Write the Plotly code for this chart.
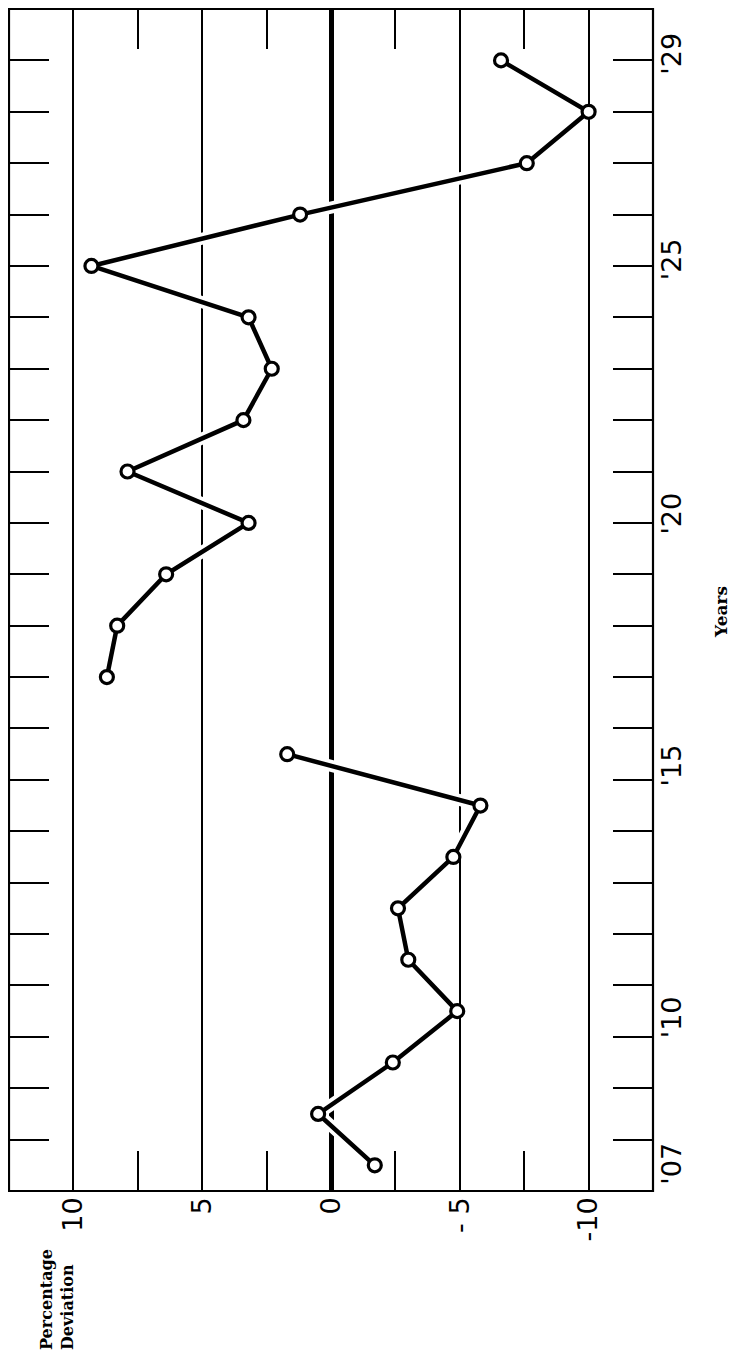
import plotly.graph_objects as go

# Lower segment (plotted between year ticks) and upper segment (on year ticks)
years_a = [1907.5, 1908.5, 1909.5, 1910.5, 1911.5, 1912.5, 1913.5, 1914.5, 1915.5]
dev_a = [-1.7, 0.5, -2.4, -4.9, -3.0, -2.6, -4.75, -5.8, 1.7]
years_b = [1917, 1918, 1919, 1920, 1921, 1922, 1923, 1924, 1925, 1926, 1927, 1928, 1929]
dev_b = [8.7, 8.3, 6.4, 3.2, 7.9, 3.4, 2.3, 3.2, 9.3, 1.2, -7.6, -10.0, -6.6]

dev_ticks = [10, 5, 0, -5, -10]
dev_ticktext = ["10", "5", "0", "- 5", "-10"]
dev_half_ticks = [7.5, 2.5, -2.5, -7.5]
year_label_pos = [1907.45, 1910.3, 1915.2, 1920.1, 1925.05, 1929.05]
year_label_text = ["'07", "'10", "'15", "'20", "'25", "'29"]

x_range = [12.5, -12.5]
y_range = [1907, 1930]

years = years_a + [None] + years_b
devs = dev_a + [None] + dev_b

OFF = 8  # default page body margin
W, H = 743 - 2 * OFF, 1360 - 2 * OFF
L, T, PW, PH = 1, 1, 644, 1182
R, B = W - L - PW, H - T - PH


def px(xp):
    return (xp - OFF - L) / PW


def py(yp):
    return (T + PH - (yp - OFF)) / PH


fig = go.Figure()
# white halo under the line (breaks the grid lines where the curve crosses)
fig.add_trace(go.Scatter(x=devs, y=years, mode="lines",
                         line=dict(color="white", width=12),
                         hoverinfo="skip", showlegend=False))
fig.add_trace(go.Scatter(x=devs, y=years, mode="lines+markers",
                         line=dict(color="black", width=4.5),
                         marker=dict(symbol="circle", size=13, color="white",
                                     line=dict(color="black", width=3.2)),
                         showlegend=False))

fig.update_layout(
    width=W, height=H,
    margin=dict(l=L, r=R, t=T, b=B, autoexpand=False),
    paper_bgcolor="white", plot_bgcolor="white",
    xaxis=dict(range=x_range, tickvals=dev_ticks, ticktext=dev_ticktext,
               tickangle=-90, tickfont=dict(family="DejaVu Sans", size=27, color="black"),
               showgrid=True, gridcolor="black", gridwidth=1.6,
               zeroline=True, zerolinecolor="black", zerolinewidth=4.5,
               showline=False, ticks="", fixedrange=True, automargin=False),
    xaxis2=dict(range=x_range, overlaying="x", matches="x", side="bottom",
                tickvals=dev_half_ticks, showticklabels=False,
                ticks="inside", ticklen=40, tickwidth=2, tickcolor="black",
                mirror="ticks", showgrid=False, zeroline=False,
                showline=False, automargin=False),
    yaxis=dict(range=y_range, tick0=1908, dtick=1, ticks="inside", ticklen=40,
               tickwidth=2, tickcolor="black", showticklabels=False,
               mirror="ticks", showgrid=False, zeroline=False,
               showline=False, automargin=False),
    yaxis2=dict(range=y_range, overlaying="y", matches="y", side="right",
                tickvals=year_label_pos, ticktext=year_label_text, tickangle=-90,
                tickfont=dict(family="DejaVu Sans", size=27, color="black"),
                ticks="", showgrid=False, zeroline=False, showline=False,
                automargin=False),
    shapes=[dict(type="rect", xref="paper", yref="paper", x0=0, x1=1, y0=0, y1=1,
                 line=dict(color="black", width=2.2), layer="above")],
)

# invisible trace to activate the overlay axes
fig.add_trace(go.Scatter(x=[None], y=[None], xaxis="x2", yaxis="y2",
                         showlegend=False, hoverinfo="skip"))

fig.add_annotation(text="<b>Percentage</b><br><b>Deviation</b>", textangle=-90,
                   xref="paper", yref="paper", x=px(57), y=py(1300),
                   xanchor="center", yanchor="middle", align="left", showarrow=False,
                   font=dict(family="DejaVu Serif", size=16, color="black"))
fig.add_annotation(text="<b>Years</b>", textangle=-90,
                   xref="paper", yref="paper", x=px(721), y=py(612),
                   xanchor="center", yanchor="middle", showarrow=False,
                   font=dict(family="DejaVu Serif", size=17, color="black"))

fig.write_html("out.html")
